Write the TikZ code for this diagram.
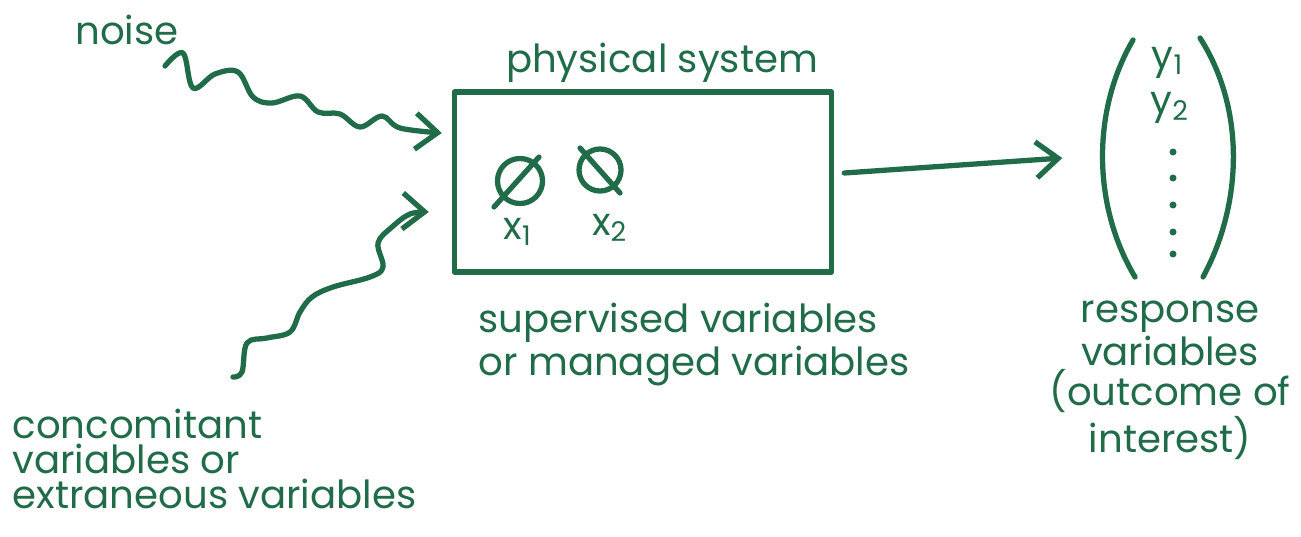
\documentclass[tikz,border=0pt]{standalone}
\usepackage{fontspec}
\setmainfont{Poppins}
\usetikzlibrary{arrows.meta, positioning, calc}

\definecolor{ink}{RGB}{32,108,72}

\begin{document}
\begin{tikzpicture}[x=0.01cm, y=-0.01cm,
        pen/.style={draw=ink, line width=1.5pt, line cap=round, line join=round},
        barb/.style={-{Straight Barb[length=2.2mm, width=3.6mm]}},
        label/.style={text=ink, font=\fontsize{11}{10}\selectfont, inner sep=0pt}]
        \useasboundingbox (0,0) rectangle (1301,536);

        % System box
        \node[pen, minimum width=3.77cm, minimum height=1.8cm] (sys) at (643,182) {};
        \node[label] (title) at (662,63) {physical system};

        % Controlled factors inside the box
        \node[pen, circle, minimum size=0.45cm] (xa) at (520,181) {};
        \node[pen, circle, minimum size=0.42cm] (xb) at (600,170) {};
        \draw[pen] ($(xa)+(-26,26)$) -- ($(xa)+(19,-24)$);
        \draw[pen] ($(xb)+(-20,-22)$) -- ($(xb)+(20,23)$);
        \node[label] (xalab) at (518,232) {x\textsubscript{1}};
        \node[label] (xblab) at (610,228) {x\textsubscript{2}};
        \node[label, align=left, anchor=north west] (ctrl) at (478,302) {supervised variables\\or managed variables};

        % Response vector
        \node[minimum width=1.3cm, minimum height=2.4cm] (vec) at (1167,158) {};
        \draw[pen] (1133,40) .. controls (1092,110) and (1092,205) .. (1135,277);
        \draw[pen] (1200,38) .. controls (1246,110) and (1242,205) .. (1203,277);
        \node[label] (ya) at (1168,63) {y\textsubscript{1}};
        \node[label] (yb) at (1170,108) {y\textsubscript{2}};
        \foreach \y in {152,178,205,232,254}
            \fill[ink] (1173,\y) circle (3.5);
        \node[label, align=center] (resp) at (1170,380) {response\\variables\\(outcome of\\interest)};

        % Inputs
        \node[label] (noise) at (127,30) {noise};
        \coordinate (noisetail) at (165,66);
        \node[label, align=left, anchor=north west] (conc) at (12,408) {concomitant\\variables or\\extraneous variables};
        \coordinate (conctail) at (233,377);

        % Arrows
        \draw[pen, barb] plot[smooth, tension=0.6] coordinates {(noisetail) (183,53) (193,88) (215,74) (238,72) (253,97) (272,103) (300,96) (318,112) (340,114) (360,127) (382,116) (400,128) ($(sys.west)+(-10,-49)$)};
        \draw[pen, barb] plot[smooth, tension=0.6] coordinates {(conctail) (242,372) (247,343) (267,338) (290,332) (300,312) (312,297) (333,287) (370,277) (383,267) (378,243) (392,227) (410,214) ($(sys.west)+(-23,30)$)};
        \draw[pen, barb] ($(sys.east)+(10,-9)$) -- ($(vec.west)+(-39,0)$);
    \end{tikzpicture}
\end{document}
